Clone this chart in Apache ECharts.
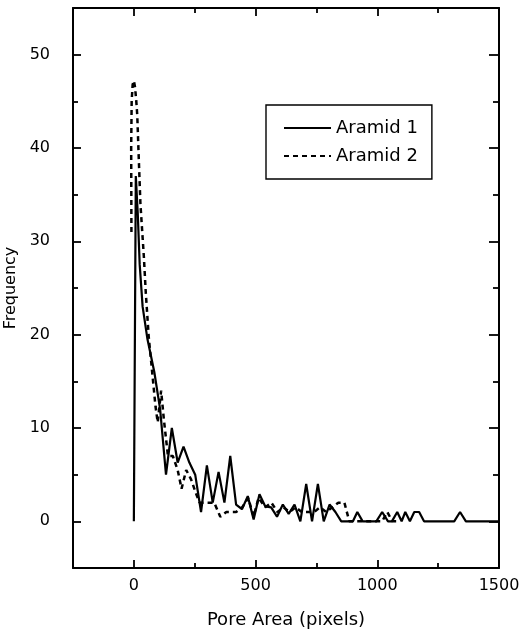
<!DOCTYPE html>
<html>
<head>
<meta charset="utf-8">
<script src="https://cdn.jsdelivr.net/npm/echarts@6/dist/echarts.min.js"></script>
<style>
  html, body { margin: 0; padding: 0; background: #fff; }
  #chart { width: 522px; height: 636px; }
</style>
</head>
<body>
<div id="chart"></div>
<script>
// Pore-area frequency distributions of two aramid samples.
const seriesNames = ['Aramid 1', 'Aramid 2'];

// Aramid 1: pore area (pixels) and frequency
const areaAramid1 = [0, 8, 16, 24, 36, 56, 84, 108, 132, 156, 180, 204, 228, 252, 276, 300, 324,
  348, 372, 396, 420, 444, 468, 492, 516, 540, 564, 588, 612, 636, 660, 684, 708, 732, 756, 780,
  804, 828, 852, 876, 900, 918, 940, 996, 1020, 1044, 1060, 1082, 1100, 1115, 1134, 1152, 1172,
  1192, 1316, 1340, 1364, 1500];
const freqAramid1 = [0, 37, 33, 27.5, 23, 19.5, 16, 12, 5, 10, 6.3, 8, 6.3, 5, 1, 6, 2,
  5.3, 2, 7, 1.8, 1.3, 2.7, 0.2, 2.9, 1.6, 1.5, 0.5, 1.8, 0.8, 1.8, 0, 4, 0, 4, 0,
  1.8, 1, 0, 0, 0, 1, 0, 0, 1, 0, 0, 1, 0, 1, 0, 1, 1,
  0, 0, 1, 0, 0];

// Aramid 2: pore area (pixels) and frequency
const areaAramid2 = [-10, -11, -9, -5, 0, 5, 10, 14, 20, 27, 41, 49, 61, 74, 89, 98, 112, 123,
  140, 160, 180, 196, 215, 235, 255, 270, 305, 330, 355, 380, 400, 420, 445, 470, 492, 512, 540,
  565, 590, 615, 640, 664, 690, 715, 740, 765, 790, 815, 840, 865, 885, 1020, 1041, 1062, 1080];
const freqAramid2 = [31, 40, 45, 46.8, 47.2, 46.5, 45, 43.5, 39, 34, 28.4, 24.5, 19.8, 16.3, 12.3, 10.6, 14, 11,
  7, 7, 5.5, 3.5, 5.5, 4.5, 3, 2, 2, 2, 0.5, 1, 1, 1, 1.5, 2.5, 0.5, 2.5, 1.5,
  2, 1, 1.5, 1, 1.5, 1, 1, 1, 1.5, 1, 1.5, 2, 2, 0, 0, 1, 0, 0];

// Axis ranges and ticks
const xRange = [-250, 1500];
const yRange = [-5, 55];
const xMajorTicks = [0, 500, 1000, 1500];
const xMinorTicks = [250, 750, 1250];
const yMajorTicks = [0, 10, 20, 30, 40, 50];
const yMinorTicks = [5, 15, 25, 35, 45];

const FONT = 'DejaVu Sans';
const pairs = (xs, ys) => xs.map((x, i) => [x, ys[i]]);
const plain = (v) => String(v);

const gridRect = { left: 73, right: 23, top: 8, bottom: 68, outerBoundsMode: 'none', containLabel: false };
const frameLine = { show: true, onZero: false, lineStyle: { color: '#000', width: 2 } };
const noLine = { show: false, onZero: false };

function xAxisDef(grid, position, ticks, len, withLabels, withLine) {
  return {
    type: 'value', gridIndex: grid, position: position,
    min: xRange[0], max: xRange[1], interval: 250,
    axisLine: withLine ? frameLine : noLine,
    axisTick: { show: true, inside: true, length: len, customValues: ticks,
      lineStyle: { color: '#000', width: 1.8 } },
    axisLabel: withLabels
      ? { show: true, customValues: ticks, formatter: plain, margin: 10,
          color: '#000', fontSize: 16, fontFamily: FONT }
      : { show: false },
    splitLine: { show: false }
  };
}
function yAxisDef(grid, position, ticks, len, withLabels, withLine) {
  return {
    type: 'value', gridIndex: grid, position: position,
    min: yRange[0], max: yRange[1], interval: 5,
    axisLine: withLine ? frameLine : noLine,
    axisTick: { show: true, inside: true, length: len, customValues: ticks,
      lineStyle: { color: '#000', width: 1.8 } },
    axisLabel: withLabels
      ? { show: true, customValues: ticks, formatter: plain, margin: 23,
          color: '#000', fontSize: 16, fontFamily: FONT }
      : { show: false },
    splitLine: { show: false }
  };
}

const xAxes = [
  xAxisDef(0, 'bottom', xMajorTicks, 8, true, true),
  xAxisDef(0, 'top', xMajorTicks, 8, false, true),
  xAxisDef(1, 'bottom', xMinorTicks, 5, false, false),
  xAxisDef(1, 'top', xMinorTicks, 5, false, false)
];
Object.assign(xAxes[0], {
  name: 'Pore Area (pixels)', nameLocation: 'middle', nameGap: 43,
  nameTextStyle: { color: '#000', fontSize: 18, fontFamily: FONT }
});

const yAxes = [
  yAxisDef(0, 'left', yMajorTicks, 8, true, true),
  yAxisDef(0, 'right', yMajorTicks, 10, false, true),
  yAxisDef(1, 'left', yMinorTicks, 5, false, false),
  yAxisDef(1, 'right', yMinorTicks, 6, false, false)
];
Object.assign(yAxes[0], {
  name: 'Frequency', nameLocation: 'middle', nameGap: 50,
  nameTextStyle: { color: '#000', fontSize: 16, fontFamily: FONT }
});

const chart = echarts.init(document.getElementById('chart'), null, { renderer: 'canvas' });
chart.setOption({
  animation: false,
  backgroundColor: '#fff',
  grid: [Object.assign({}, gridRect), Object.assign({}, gridRect)],
  xAxis: xAxes,
  yAxis: yAxes,
  legend: {
    orient: 'vertical', left: 266, top: 105,
    data: seriesNames,
    backgroundColor: '#fff',
    borderColor: '#000', borderWidth: 1.4,
    padding: [13, 14, 13, 17],
    itemWidth: 47, itemHeight: 14, itemGap: 8,
    itemStyle: { opacity: 0 },
    textStyle: { color: '#000', fontSize: 18, fontFamily: FONT, lineHeight: 20 }
  },
  series: [
    {
      name: seriesNames[0], type: 'line', xAxisIndex: 0, yAxisIndex: 0,
      data: pairs(areaAramid1, freqAramid1),
      symbol: 'none', smooth: false,
      lineStyle: { color: '#000', width: 2.2, type: 'solid' },
      itemStyle: { color: '#000' }
    },
    {
      name: seriesNames[1], type: 'line', xAxisIndex: 0, yAxisIndex: 0,
      data: pairs(areaAramid2, freqAramid2),
      symbol: 'none', smooth: false,
      lineStyle: { color: '#000', width: 2.5, type: [5, 4] },
      itemStyle: { color: '#000' }
    }
  ]
});
</script>
</body>
</html>
